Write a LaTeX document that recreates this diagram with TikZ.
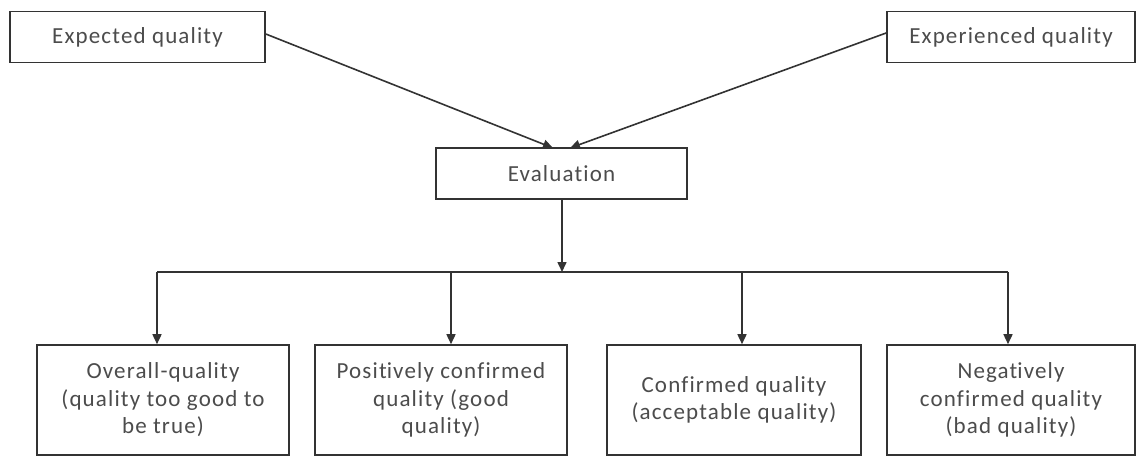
\documentclass[tikz,border=0pt]{standalone}
\usepackage{fontspec}
\setmainfont[LetterSpace=5,Ligatures={NoCommon}]{Carlito}
\usetikzlibrary{arrows.meta}
\newcommand{\nolig}{\kern0pt}
\begin{document}
\begin{tikzpicture}[x=1pt,y=-1pt,
  box/.style={draw=black!80, line width=1.6pt, fill=white, inner sep=0pt, align=center,
    text=black!70, font=\fontsize{23}{27.5}\selectfont},
  conn/.style={draw=black!80, line width=1.6pt},
  arr/.style={conn, -{Triangle[length=10pt,width=9pt]}}]
\useasboundingbox[fill=white] (0,0) rectangle (1137,457);
\node[box, minimum width=255pt, minimum height=51pt] (exp) at (137.5,37) {Expected quality};
\node[box, minimum width=248pt, minimum height=51pt] (expr) at (1011,37) {Experienced quality};
\node[box, minimum width=251pt, minimum height=51pt] (eval) at (561.5,173.5) {Evaluation};
\node[box, minimum width=252pt, minimum height=110pt] (b1) at (163,400) {Overall-quality\\(quality too good to\\be true)};
\node[box, minimum width=252pt, minimum height=110pt] (b2) at (441,400) {Posit\nolig ively confirmed\\quality (good\\quality)};
\node[box, minimum width=254pt, minimum height=110pt] (b3) at (734,400) {Confirmed quality\\(acceptable quality)};
\node[box, minimum width=248pt, minimum height=110pt] (b4) at (1011,400) {Negat\nolig ively\\confirmed quality\\(bad quality)};
\coordinate (t1) at (553,148);
\coordinate (t2) at (570,148);
\coordinate (hub) at (562,272);
\coordinate (hl) at (157,272);
\coordinate (h2) at (451,272);
\coordinate (h3) at (742,272);
\coordinate (hr) at (1008,272);
\draw[arr] (exp.east) ++(0,-3) -- (t1);
\draw[arr] (expr.west) ++(0,-4) -- (t2);
\draw[arr] (eval.south -| hub) -- (hub);
\draw[conn] (hl) -- (hr);
\draw[arr] (hl) -- (hl |- b1.north);
\draw[arr] (h2) -- (h2 |- b2.north);
\draw[arr] (h3) -- (h3 |- b3.north);
\draw[arr] (hr) -- (hr |- b4.north);
\end{tikzpicture}
\end{document}
